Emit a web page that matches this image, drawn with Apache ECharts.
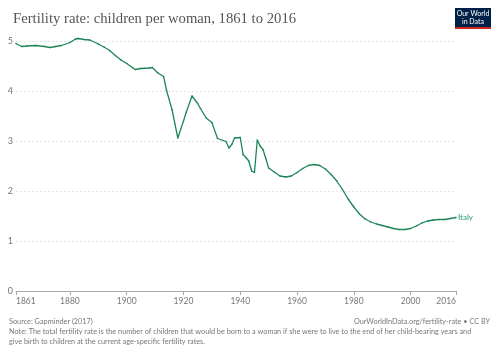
<!DOCTYPE html>
<html>
<head>
    <meta charset="utf-8">
    <title>Fertility rate</title>
    <script type="text/javascript" src="https://cdn.jsdelivr.net/npm/echarts@6/dist/echarts.min.js"></script>
    <style type="text/css">
        html, body { margin: 0; padding: 0; background: #fff; }
        #main { width: 500px; height: 353px; }
    </style>
</head>
<body>
<div id="main"></div>
<script type="text/javascript">
    // data (Italy, children per woman)
    var years = [1861, 1863, 1865, 1868, 1871, 1873, 1875, 1877, 1880, 1882, 1883, 1885, 1887, 1890, 1892, 1894, 1896, 1898,
        1900, 1902, 1903, 1905, 1908, 1909, 1911, 1913, 1914, 1916, 1918, 1920, 1921, 1923, 1925, 1926, 1928, 1930,
        1932, 1934, 1935, 1936, 1937, 1938, 1940, 1941, 1942, 1943, 1944, 1945, 1946, 1947, 1948, 1949, 1950, 1952,
        1954, 1956, 1958, 1960, 1962, 1964, 1966, 1968, 1970, 1972, 1974, 1976, 1978, 1980, 1982, 1984, 1986, 1988,
        1990, 1992, 1994, 1996, 1998, 2000, 2002, 2004, 2006, 2008, 2010, 2012, 2014, 2016];
    var italy = [4.95, 4.89, 4.90, 4.91, 4.89, 4.87, 4.89, 4.91, 4.97, 5.04, 5.05, 5.03, 5.02, 4.94, 4.88, 4.81, 4.71, 4.62,
        4.55, 4.47, 4.43, 4.45, 4.46, 4.47, 4.36, 4.29, 4.02, 3.62, 3.06, 3.40, 3.58, 3.90, 3.75, 3.65, 3.46, 3.37,
        3.05, 3.01, 2.99, 2.86, 2.93, 3.06, 3.07, 2.73, 2.67, 2.60, 2.40, 2.37, 3.02, 2.90, 2.83, 2.65, 2.46, 2.38,
        2.30, 2.28, 2.30, 2.37, 2.45, 2.51, 2.53, 2.51, 2.44, 2.33, 2.20, 2.03, 1.84, 1.68, 1.54, 1.44, 1.38, 1.34,
        1.31, 1.28, 1.25, 1.23, 1.23, 1.25, 1.30, 1.36, 1.40, 1.42, 1.43, 1.43, 1.45, 1.47];
    var xTicks = [1861, 1880, 1900, 1920, 1940, 1960, 1980, 2000, 2016];
    var yTicks = [0, 1, 2, 3, 4, 5];

    var points = [];
    for (var i = 0; i < years.length; i++) {
        points.push([years[i], italy[i]]);
    }

    var myChart = echarts.init(document.getElementById('main'));

    var noteColor = '#777';
    var option = {
        animation: false,
        title: {
            text: 'Fertility rate: children per woman, 1861 to 2016',
            left: 8,
            top: 7,
            textStyle: {
                fontFamily: 'Liberation Serif',
                fontWeight: 'normal',
                fontSize: 14.7,
                color: '#555'
            }
        },
        grid: {
            left: 16,
            right: 44,
            top: 41,
            bottom: 62
        },
        xAxis: {
            type: 'value',
            min: 1861,
            max: 2016,
            splitLine: { show: false },
            axisLine: { lineStyle: { color: '#aaa' } },
            axisTick: {
                show: true,
                length: 4,
                customValues: xTicks,
                lineStyle: { color: '#aaa' }
            },
            axisLabel: {
                customValues: xTicks,
                formatter: function (v) { return String(v); },
                margin: 6,
                fontFamily: 'Lato',
                fontSize: 8.5,
                color: '#777',
                alignMinLabel: 'left',
                alignMaxLabel: 'right'
            }
        },
        yAxis: {
            type: 'value',
            min: 0,
            max: 5,
            interval: 1,
            axisLine: { show: false },
            axisTick: { show: false },
            axisLabel: {
                margin: 3,
                fontFamily: 'Lato',
                fontSize: 9,
                color: '#777',
                customValues: yTicks
            },
            splitLine: {
                lineStyle: { color: '#ddd', type: [2, 2], width: 0.8 }
            }
        },
        series: [{
            name: 'Italy',
            type: 'line',
            data: points,
            clip: false,
            showSymbol: true,
            symbol: 'circle',
            symbolSize: 1.6,
            itemStyle: { color: '#1d8658' },
            lineStyle: { color: '#1d8658', width: 1.3 },
            endLabel: {
                show: true,
                formatter: 'Italy',
                distance: 2,
                fontFamily: 'Lato',
                fontSize: 8,
                color: '#2c9a6a'
            }
        }],
        graphic: [
            { type: 'rect', shape: { x: 455, y: 8, width: 36, height: 19 }, style: { fill: '#002147' } },
            { type: 'rect', shape: { x: 455, y: 27, width: 36, height: 2 }, style: { fill: '#ce261e' } },
            { type: 'text', x: 473, y: 10.5, style: { text: 'Our World', fill: '#fff', font: '7px Lato', align: 'center' } },
            { type: 'text', x: 473, y: 18, style: { text: 'in Data', fill: '#fff', font: '7px Lato', align: 'center' } },
            { type: 'text', x: 9, y: 318, style: { text: 'Source: Gapminder (2017)', fill: noteColor, font: '7.3px Lato' } },
            { type: 'text', x: 490, y: 318, style: { text: 'OurWorldInData.org/fertility-rate \u2022 CC BY', fill: noteColor, font: '7.3px Lato', align: 'right' } },
            { type: 'text', x: 9, y: 328, style: { text: 'Note: The total fertility rate is the number of children that would be born to a woman if she were to live to the end of her child-bearing years and', fill: noteColor, font: '7.3px Lato' } },
            { type: 'text', x: 9, y: 338, style: { text: 'give birth to children at the current age-specific fertility rates.', fill: noteColor, font: '7.3px Lato' } }
        ]
    };

    myChart.setOption(option);
</script>
</body>
</html>
